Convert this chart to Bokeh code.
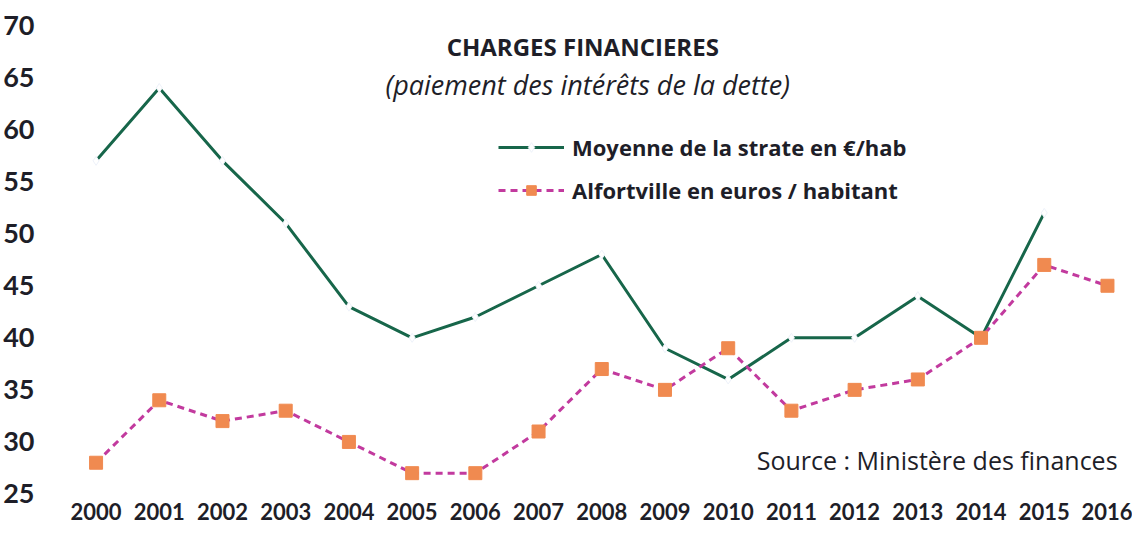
from bokeh.plotting import figure
from bokeh.models import Legend, LegendItem, Label, FixedTicker, Range1d, ColumnDataSource
from bokeh.embed import file_html
from bokeh.resources import INLINE

# ---- data ----
years = [2000, 2001, 2002, 2003, 2004, 2005, 2006, 2007, 2008,
         2009, 2010, 2011, 2012, 2013, 2014, 2015, 2016]
moyenne_years = years[:16]
moyenne = [57, 64, 57, 51, 43, 40, 42, 45, 48, 39, 36, 40, 40, 44, 40, 52]
alfortville = [28, 34, 32, 33, 30, 27, 27, 31, 37, 35, 39, 33, 35, 36, 40, 47, 45]
y_ticks = [25, 30, 35, 40, 45, 50, 55, 60, 65, 70]

title = "CHARGES FINANCIERES"
subtitle = "(paiement des intérêts de la dette)"
source_txt = "Source : Ministère des finances"
label_moy = "Moyenne de la strate en €/hab"
label_alf = "Alfortville en euros / habitant"

FONT = "Open Sans"
AXFONT = "Lato"
TXT = "#1e1e28"
GREEN = "#17664a"
MAGENTA = "#c23a9e"
ORANGE = "#f08a50"

src_m = ColumnDataSource(dict(x=moyenne_years, y=moyenne))
src_a = ColumnDataSource(dict(x=years, y=alfortville))

p = figure(width=1132, height=523, output_backend="svg", toolbar_location=None,
           x_range=Range1d(1999.469, 2016.396), y_range=Range1d(24.95, 72.015),
           min_border_left=52, min_border_right=0, min_border_top=4,
           min_border_bottom=29)
p.outline_line_color = None
p.xgrid.grid_line_color = None
p.ygrid.grid_line_color = None
p.background_fill_color = "white"
p.border_fill_color = "white"

for ax in (p.xaxis, p.yaxis):
    ax.axis_line_color = None
    ax.major_tick_line_color = None
    ax.minor_tick_line_color = None
    ax.major_label_text_font = AXFONT
    ax.major_label_text_font_style = "bold"
    ax.major_label_text_color = TXT

p.xaxis.ticker = FixedTicker(ticks=years)
p.xaxis.major_label_text_font_size = "22px"
p.xaxis.major_label_standoff = 2
p.yaxis.ticker = FixedTicker(ticks=y_ticks)
p.yaxis.major_label_text_font_size = "27px"
p.yaxis.major_label_standoff = 22

gl = p.line("x", "y", source=src_m, line_color=GREEN, line_width=3)
gm = p.scatter("x", "y", source=src_m, marker="diamond", size=9,
               fill_color="white", line_color="#eef2fa", line_width=1)
ol = p.line("x", "y", source=src_a, line_color=MAGENTA, line_width=3,
            line_dash="7 5")
om = p.scatter("x", "y", source=src_a, marker="square", size=13,
               fill_color=ORANGE, line_color=ORANGE, line_width=1)

legend = Legend(items=[LegendItem(label=label_moy, renderers=[gl, gm]),
                       LegendItem(label=label_alf, renderers=[ol, om])],
                location=(436, 289), orientation="vertical",
                glyph_width=66, glyph_height=24, label_height=24,
                label_standoff=8, spacing=13, padding=0, margin=0,
                border_line_alpha=0, background_fill_alpha=0,
                label_text_font=FONT, label_text_font_style="bold",
                label_text_font_size="22px", label_text_color=TXT)
p.add_layout(legend)

p.add_layout(Label(x=2007.699, y=67.98, text=title, text_align="center",
                   text_baseline="middle", text_font=FONT,
                   text_font_style="bold", text_font_size="24px",
                   text_color=TXT))
p.add_layout(Label(x=2007.778, y=64.33, text=subtitle, text_align="center",
                   text_baseline="middle", text_font=FONT,
                   text_font_style="italic", text_font_size="27px",
                   text_color=TXT))
p.add_layout(Label(x=2010.451, y=28.31, text=source_txt, text_align="left",
                   text_baseline="middle", text_font=FONT,
                   text_font_size="25px", text_color=TXT))

open("out.html", "w").write(file_html(p, INLINE))
